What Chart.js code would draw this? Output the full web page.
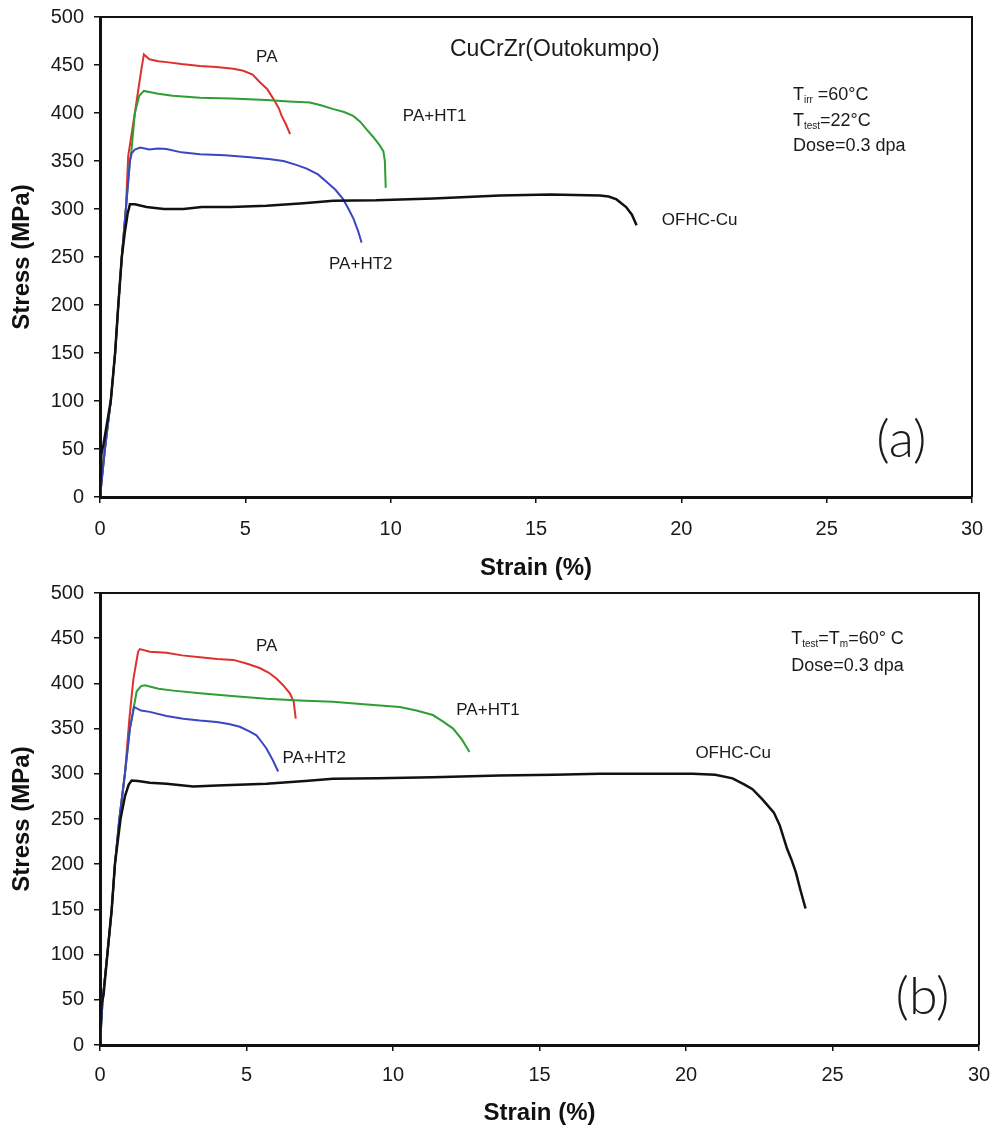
<!DOCTYPE html>
<html>
<head>
<meta charset="utf-8">
<script src="https://cdn.jsdelivr.net/npm/chart.js@4.4.1/dist/chart.umd.min.js"></script>
<style>
  html, body { margin: 0; padding: 0; background: #fff; }
  .wrap { position: relative; width: 994px; }
  canvas { display: block; }
</style>
</head>
<body>
<div class="wrap"><canvas id="ca" width="994" height="580"></canvas></div>
<div class="wrap"><canvas id="cb" width="994" height="549"></canvas></div>
<script>
// ---------- tick labels ----------
const xTicks = [0, 5, 10, 15, 20, 25, 30];
const yTicks = [0, 50, 100, 150, 200, 250, 300, 350, 400, 450, 500];

// ---------- panel (a): Tirr = 60°C, Ttest = 22°C ----------
const paA_strain = [0, 0.17, 0.37, 0.52, 0.63, 0.75, 0.89, 0.97, 1.2, 1.42, 1.51, 1.7, 2.0, 2.29, 2.8, 3.44, 4.0, 4.59, 4.93, 5.25, 5.5, 5.75, 5.96, 6.15, 6.25, 6.4, 6.54];
const paA_stress = [0, 50, 100, 150, 200, 250, 300, 355, 400, 445, 461, 456, 454, 453, 451, 449, 448, 446, 444, 440, 432, 425, 415, 405, 397, 388, 378];

const ht1A_strain = [0, 0.17, 0.37, 0.52, 0.63, 0.75, 0.89, 1.03, 1.08, 1.2, 1.35, 1.51, 2.0, 2.5, 3.44, 4.5, 5.73, 6.5, 7.22, 7.6, 8.03, 8.4, 8.71, 8.95, 9.17, 9.4, 9.63, 9.75, 9.8, 9.83];
const ht1A_stress = [0, 50, 100, 150, 200, 250, 300, 350, 360, 400, 418, 423, 420, 418, 416, 415, 413.5, 412, 411, 408, 404, 401, 397, 391, 383, 375, 366, 360, 350, 322];

const ht2A_strain = [0, 0.17, 0.37, 0.52, 0.63, 0.75, 0.89, 1.03, 1.09, 1.2, 1.38, 1.7, 2.0, 2.29, 2.8, 3.44, 4.3, 5.16, 5.8, 6.31, 6.75, 7.11, 7.5, 7.8, 8.1, 8.37, 8.55, 8.72, 8.88, 9.0];
const ht2A_stress = [0, 50, 100, 150, 200, 250, 300, 350, 358, 362, 364, 362, 363, 362.5, 359, 357, 356, 354, 352, 350, 346, 342, 336, 328, 320, 310, 300, 290, 277, 265];

const cuA_strain = [0, 0.05, 0.12, 0.37, 0.52, 0.63, 0.75, 0.85, 0.95, 1.03, 1.2, 1.6, 2.2, 2.87, 3.5, 4.5, 5.73, 7.0, 8.03, 9.5, 11.47, 13.76, 15.5, 17.2, 17.5, 17.77, 18.1, 18.3, 18.46];
const cuA_stress = [0, 45, 55, 100, 150, 200, 250, 275, 295, 305, 305, 302, 300, 300, 302, 302, 303.5, 306, 308.6, 309, 311, 314, 315, 314, 313, 310, 302, 294, 283];

// ---------- panel (b): Ttest = Tirr = 60°C ----------
const paB_strain = [0, 0.09, 0.25, 0.4, 0.51, 0.66, 0.85, 1.0, 1.14, 1.3, 1.36, 1.7, 2.27, 2.8, 3.41, 4.0, 4.55, 5.0, 5.45, 5.75, 6.02, 6.25, 6.48, 6.61, 6.68];
const paB_stress = [0, 50, 100, 150, 200, 250, 300, 360, 405, 435, 438, 435, 434, 431, 429, 427, 426, 422, 417, 412, 405.5, 398, 389, 380, 361];

const ht1B_strain = [0, 0.09, 0.25, 0.4, 0.51, 0.66, 0.85, 1.02, 1.08, 1.25, 1.4, 1.53, 2.0, 2.5, 3.41, 4.5, 5.68, 6.8, 7.95, 9.0, 10.23, 10.8, 11.36, 11.7, 12.05, 12.35, 12.61];
const ht1B_stress = [0, 50, 100, 150, 200, 250, 300, 350, 360, 391, 397, 398, 394, 392, 389, 386, 383, 381, 379.6, 377, 374, 370, 365, 358, 350, 338, 324];

const ht2B_strain = [0, 0.09, 0.25, 0.4, 0.51, 0.66, 0.85, 1.02, 1.16, 1.4, 1.7, 2.27, 2.84, 3.4, 3.98, 4.4, 4.77, 5.1, 5.34, 5.5, 5.68, 5.9, 6.08];
const ht2B_stress = [0, 50, 100, 150, 200, 250, 300, 350, 374, 370, 368.5, 364, 361, 359, 357.4, 355, 352, 347, 342.6, 336, 328, 315, 302.6];

const cuB_strain = [0, 0.05, 0.12, 0.25, 0.4, 0.51, 0.7, 0.85, 0.98, 1.08, 1.3, 1.7, 2.27, 3.18, 4.0, 5.68, 7.0, 7.95, 9.5, 11.36, 13.64, 15.5, 17.05, 18.5, 20.23, 21.0, 21.59, 22.0, 22.27, 22.6, 23.0, 23.2, 23.45, 23.6, 23.75, 23.9, 24.08];
const cuB_stress = [0, 45, 55, 100, 150, 200, 250, 275, 288, 292.6, 292, 290, 289, 286, 287, 289, 292, 294.4, 295, 296.3, 298, 299, 300, 300, 300, 299, 295, 288, 283, 272, 257, 243, 217, 205, 191, 172, 151];

// ---------- annotation texts ----------
const seriesNames = ["PA", "PA+HT1", "PA+HT2", "OFHC-Cu"];
const titleA = "CuCrZr(Outokumpo)";
const panelA = "(a)";
const panelB = "(b)";

const COLORS = { PA: "#e0302c", HT1: "#2f9e35", HT2: "#3b46c4", CU: "#111111" };

function pts(xs, ys) { return xs.map((x, i) => ({ x: x, y: ys[i] })); }

function ds(label, xs, ys, color, w) {
  return { label, data: pts(xs, ys), borderColor: color, backgroundColor: color,
    borderWidth: w, pointRadius: 0, showLine: true, tension: 0, fill: false };
}

// draw text made of parts (main + subscripts) at data coords
function richText(ctx, chart, sx, sy, parts) {
  const xs = chart.scales.x, ys = chart.scales.y;
  let px = xs.getPixelForValue(sx);
  const py = ys.getPixelForValue(sy);
  ctx.textAlign = 'left';
  ctx.textBaseline = 'alphabetic';
  for (const p of parts) {
    ctx.font = (p.size || 18) + 'px "Liberation Sans", Arial, sans-serif';
    ctx.fillText(p.t, px, py + (p.dy || 0));
    px += ctx.measureText(p.t).width;
  }
}

function makeAnnot(items) {
  return {
    id: 'annot',
    afterDraw(chart) {
      const ctx = chart.ctx, ca = chart.chartArea;
      ctx.save();
      // frame top/right
      ctx.strokeStyle = '#111';
      ctx.lineWidth = 2;
      ctx.beginPath();
      ctx.moveTo(ca.left, ca.top);
      ctx.lineTo(ca.right, ca.top);
      ctx.lineTo(ca.right, ca.bottom);
      ctx.stroke();
      ctx.fillStyle = '#1a1a1a';
      for (const it of items) {
        if (it.big) {
          ctx.font = '300 52px Lato, "DejaVu Sans", sans-serif';
          ctx.textAlign = 'center';
          ctx.textBaseline = 'middle';
          ctx.fillText(it.t, chart.scales.x.getPixelForValue(it.x), chart.scales.y.getPixelForValue(it.y));
        } else {
          richText(ctx, chart, it.x, it.y, it.parts);
        }
      }
      ctx.restore();
    }
  };
}

function makeChart(id, datasets, layout, items) {
  const H = layout.H;
  return new Chart(document.getElementById(id), {
    type: 'scatter',
    data: { datasets },
    options: {
      responsive: false,
      animation: false,
      layout: { padding: { left: 0, top: layout.top, right: layout.right, bottom: 0 } },
      plugins: { legend: { display: false }, tooltip: { enabled: false } },
      scales: {
        x: {
          type: 'linear', min: 0, max: 30,
          afterBuildTicks: s => { s.ticks = xTicks.map(v => ({ value: v })); },
          afterFit: s => { s.height = H - layout.bottom; s.paddingLeft = 0; s.paddingRight = 0; },
          border: { display: true, color: '#111', width: 3 },
          grid: { drawOnChartArea: false, drawTicks: true, tickLength: 6, color: '#111', lineWidth: 1.5 },
          ticks: { color: '#1a1a1a', padding: layout.xpad, maxRotation: 0,
                   font: { family: '"Liberation Sans", Arial, sans-serif', size: 20 } },
          title: { display: true, text: 'Strain (%)', color: '#111',
                   font: { family: '"Liberation Sans", Arial, sans-serif', size: 24, weight: 'bold', lineHeight: 1 },
                   padding: { top: 0, bottom: layout.xtitle } }
        },
        y: {
          type: 'linear', min: 0, max: 500,
          afterBuildTicks: s => { s.ticks = yTicks.map(v => ({ value: v })); },
          afterFit: s => { s.width = 100; s.paddingTop = 0; s.paddingBottom = 0; },
          border: { display: true, color: '#111', width: 3 },
          grid: { drawOnChartArea: false, drawTicks: true, tickLength: 6, color: '#111', lineWidth: 1.5 },
          ticks: { color: '#1a1a1a', padding: 10,
                   font: { family: '"Liberation Sans", Arial, sans-serif', size: 20 } },
          title: { display: true, text: 'Stress (MPa)', color: '#111',
                   font: { family: '"Liberation Sans", Arial, sans-serif', size: 24, weight: 'bold', lineHeight: 1 },
                   padding: { top: 10, bottom: 0 } }
        }
      }
    },
    plugins: [makeAnnot(items)]
  });
}

// panel (a)
makeChart('ca', [
  ds(seriesNames[3], cuA_strain, cuA_stress, COLORS.CU, 2.5),
  ds(seriesNames[2], ht2A_strain, ht2A_stress, COLORS.HT2, 2),
  ds(seriesNames[1], ht1A_strain, ht1A_stress, COLORS.HT1, 2),
  ds(seriesNames[0], paA_strain, paA_stress, COLORS.PA, 2)
], { H: 580, top: 17, right: 22, bottom: 497, xpad: 14, xtitle: 0 }, [
  { x: 12.04, y: 459.4, parts: [{ t: titleA, size: 23 }] },
  { x: 5.37, y: 453, parts: [{ t: seriesNames[0], size: 17 }] },
  { x: 10.42, y: 391.7, parts: [{ t: seriesNames[1], size: 17 }] },
  { x: 7.88, y: 237.5, parts: [{ t: seriesNames[2], size: 17 }] },
  { x: 19.33, y: 283.6, parts: [{ t: seriesNames[3], size: 17 }] },
  { x: 23.84, y: 413.5, parts: [{ t: 'T', size: 18 }, { t: 'irr', size: 10, dy: 3 }, { t: ' =60°C', size: 18 }] },
  { x: 23.84, y: 386.5, parts: [{ t: 'T', size: 18 }, { t: 'test', size: 10, dy: 3 }, { t: '=22°C', size: 18 }] },
  { x: 23.84, y: 360.4, parts: [{ t: 'Dose=0.3 dpa', size: 18 }] },
  { big: true, t: panelA, x: 27.57, y: 59 }
]);

// panel (b)
makeChart('cb', [
  ds(seriesNames[3], cuB_strain, cuB_stress, COLORS.CU, 2.5),
  ds(seriesNames[2], ht2B_strain, ht2B_stress, COLORS.HT2, 2),
  ds(seriesNames[1], ht1B_strain, ht1B_stress, COLORS.HT1, 2),
  ds(seriesNames[0], paB_strain, paB_stress, COLORS.PA, 2)
], { H: 549, top: 13, right: 15, bottom: 465, xpad: 12, xtitle: 4 }, [
  { x: 5.32, y: 436, parts: [{ t: seriesNames[0], size: 17 }] },
  { x: 12.16, y: 364.8, parts: [{ t: seriesNames[1], size: 17 }] },
  { x: 6.23, y: 312, parts: [{ t: seriesNames[2], size: 17 }] },
  { x: 20.32, y: 317.8, parts: [{ t: seriesNames[3], size: 17 }] },
  { x: 23.59, y: 443.3, parts: [{ t: 'T', size: 18 }, { t: 'test', size: 10, dy: 3 }, { t: '=T', size: 18 }, { t: 'm', size: 10, dy: 3 }, { t: '=60° C', size: 18 }] },
  { x: 23.59, y: 413.3, parts: [{ t: 'Dose=0.3 dpa', size: 18 }] },
  { big: true, t: panelB, x: 28.07, y: 53.3 }
]);
</script>
</body>
</html>
